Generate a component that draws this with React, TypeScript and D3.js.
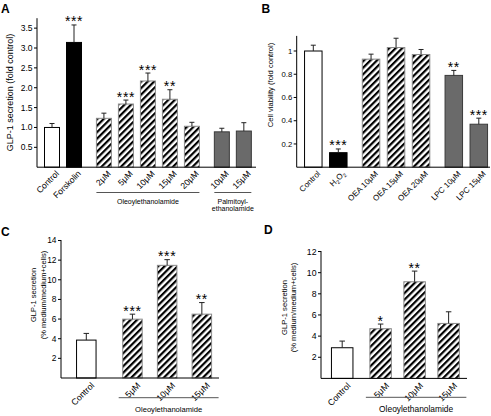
import React from 'react';
import * as d3 from 'd3';

// ---------- Panel A ----------
const aCategories = ['Control', 'Forskolin', '2μM', '5μM', '10μM', '15μM', '20μM', '10μM', '15μM'];
const aGroups = [0, 0, 1, 1, 1, 1, 1, 2, 2];
const aValues = [1.0, 3.14, 1.23, 1.59, 2.17, 1.71, 1.03, 0.89, 0.91];
const aErrors = [0.1, 0.44, 0.13, 0.1, 0.2, 0.24, 0.1, 0.09, 0.21];
const aStars = ['', '***', '', '***', '***', '**', '', '', ''];
const aFills = ['white', 'black', 'hatch', 'hatch', 'hatch', 'hatch', 'hatch', 'gray', 'gray'];
const aTicks = [0.5, 1, 1.5, 2, 2.5, 3, 3.5];
const aTickLabels = ['0.5', '1.0', '1.5', '2.0', '2.5', '3.0', '3.5'];
const aGroupLabels = ['', 'Oleoylethanolamide', 'Palmitoyl-|ethanolamide'];

// ---------- Panel B ----------
const bCategories = ['Control', 'H₂O₂', 'OEA 10μM', 'OEA 15μM', 'OEA 20μM', 'LPC 10μM', 'LPC 15μM'];
const bGroups = [0, 0, 1, 1, 1, 2, 2];
const bValues = [1.0, 0.125, 0.93, 1.03, 0.97, 0.79, 0.37];
const bErrors = [0.05, 0.032, 0.043, 0.08, 0.043, 0.043, 0.052];
const bStars = ['', '***', '', '', '', '**', '***'];
const bFills = ['white', 'black', 'hatch', 'hatch', 'hatch', 'gray', 'gray'];
const bTicks = [0.2, 0.4, 0.6, 0.8, 1];
const bTickLabels = ['0.2', '0.4', '0.6', '0.8', '1'];

// ---------- Panel C ----------
const cCategories = ['Control', '5μM', '10μM', '15μM'];
const cGroups = [0, 1, 1, 1];
const cValues = [3.86, 5.99, 11.47, 6.5];
const cErrors = [0.68, 0.51, 0.58, 1.18];
const cStars = ['', '***', '***', '**'];
const cFills = ['white', 'hatch', 'hatch', 'hatch'];
const cTicks = [2, 4, 6, 8, 10, 12, 14];
const cTickLabels = ['2', '4', '6', '8', '10', '12', '14'];
const cGroupLabels = ['', 'Oleoylethanolamide'];

// ---------- Panel D ----------
const dCategories = ['Control', '5μM', '10μM', '15μM'];
const dGroups = [0, 1, 1, 1];
const dValues = [2.9, 4.7, 9.14, 5.2];
const dErrors = [0.63, 0.44, 1.01, 1.1];
const dStars = ['', '*', '**', ''];
const dFills = ['white', 'hatch', 'hatch', 'hatch'];
const dTicks = [2, 4, 6, 8, 10, 12];
const dTickLabels = ['2', '4', '6', '8', '10', '12'];
const dGroupLabels = ['', 'Oleoylethanolamide'];

const FONT = '"Liberation Sans", Arial, Helvetica, sans-serif';

type PanelCfg = {
  letter: string; letterX: number; letterY: number;
  cats: string[]; groups: number[]; values: number[]; errors: number[]; stars: string[]; fills: string[];
  ticks: number[]; tickLabels: string[]; groupLabels: string[];
  yMax: number; x0: number; xEnd: number; yBase: number; yTop: number;
  c0: number; step: number; gapFrac: number; barW: number; capW: number;
  tickFont: number; labelFont: number; labelDx: number; labelDy: number;
  titleLines: string[]; titleFont: number; titleX: number; titleY: number; titleGap: number;
  groupLineY: number; groupTextY: number; groupFont: number; groupPadL: number; groupPadR: number;
  starFont: number;
};

const panels: PanelCfg[] = [
  {
    letter: 'A', letterX: 1, letterY: 12.7,
    cats: aCategories, groups: aGroups, values: aValues, errors: aErrors, stars: aStars, fills: aFills,
    ticks: aTicks, tickLabels: aTickLabels, groupLabels: aGroupLabels,
    yMax: 3.75, x0: 37, xEnd: 256, yBase: 167.2, yTop: 18.2,
    c0: 52, step: 22, gapFrac: 0.36, barW: 15, capW: 5,
    tickFont: 8.5, labelFont: 8.6, labelDx: 7.5, labelDy: 7,
    titleLines: ['GLP-1 secretion (fold control)'], titleFont: 9, titleX: 13, titleY: 92.5, titleGap: 0,
    groupLineY: 192.5, groupTextY: 203.5, groupFont: 7, groupPadL: 0, groupPadR: 0,
    starFont: 14,
  },
  {
    letter: 'B', letterX: 261.5, letterY: 13.3,
    cats: bCategories, groups: bGroups, values: bValues, errors: bErrors, stars: bStars, fills: bFills,
    ticks: bTicks, tickLabels: bTickLabels, groupLabels: [],
    yMax: 1.13, x0: 296.7, xEnd: 490, yBase: 167.2, yTop: 35.9,
    c0: 313.3, step: 25, gapFrac: 0.31, barW: 17.5, capW: 5,
    tickFont: 7.7, labelFont: 8, labelDx: 7.5, labelDy: 7,
    titleLines: ['Cell viability (fold control)'], titleFont: 7.6, titleX: 273, titleY: 85, titleGap: 0,
    groupLineY: 0, groupTextY: 0, groupFont: 7, groupPadL: 0, groupPadR: 0,
    starFont: 14,
  },
  {
    letter: 'C', letterX: 1, letterY: 235.7,
    cats: cCategories, groups: cGroups, values: cValues, errors: cErrors, stars: cStars, fills: cFills,
    ticks: cTicks, tickLabels: cTickLabels, groupLabels: cGroupLabels,
    yMax: 14.05, x0: 61, xEnd: 219, yBase: 378, yTop: 240,
    c0: 86.3, step: 34.7, gapFrac: 0.33, barW: 19.5, capW: 5.5,
    tickFont: 8.4, labelFont: 8.8, labelDx: 8.5, labelDy: 8,
    titleLines: ['GLP-1 secretion', '(% medium/medium+cells)'], titleFont: 7.5, titleX: 35.5, titleY: 295, titleGap: 10.5,
    groupLineY: 397.7, groupTextY: 412, groupFont: 7.6, groupPadL: 4, groupPadR: 7,
    starFont: 14,
  },
  {
    letter: 'D', letterX: 264, letterY: 234.3,
    cats: dCategories, groups: dGroups, values: dValues, errors: dErrors, stars: dStars, fills: dFills,
    ticks: dTicks, tickLabels: dTickLabels, groupLabels: dGroupLabels,
    yMax: 12.05, x0: 321, xEnd: 467, yBase: 378.4, yTop: 251,
    c0: 342.2, step: 34, gapFrac: 0.13, barW: 21.5, capW: 5.5,
    tickFont: 8.7, labelFont: 8.8, labelDx: 9, labelDy: 8,
    titleLines: ['GLP-1 secretion', '(% medium/medium+cells)'], titleFont: 7.6, titleX: 286.5, titleY: 307.5, titleGap: 9.5,
    groupLineY: 397.3, groupTextY: 412, groupFont: 8.4, groupPadL: 4, groupPadR: 7,
    starFont: 14,
  },
];

function renderLabel(s: string, size: number) {
  const parts = s.split(/(₂)/).filter((p) => p !== '');
  return parts.map((p, i) =>
    p === '₂' ? (
      <tspan key={i} fontSize={size * 0.7} dy={2}>2</tspan>
    ) : (
      <tspan key={i} dy={i > 0 && parts[i - 1] === '₂' ? -2 : 0}>{p}</tspan>
    )
  );
}

function Panel({ p, idx }: { p: PanelCfg; idx: number }) {
  const y = d3.scaleLinear().domain([0, p.yMax]).range([p.yBase, p.yTop]);
  const slot = d3.scaleLinear().domain([0, 1]).range([p.c0, p.c0 + p.step]);
  const cx = p.cats.map((_, i) => slot(i + p.gapFrac * p.groups[i]));
  const fillOf = (f: string) =>
    f === 'hatch' ? `url(#hatch${idx})` : f === 'gray' ? '#6a6a6a' : f === 'black' ? '#000' : '#fff';
  const strokeOf = (f: string) => (f === 'hatch' ? '#8a8a8a' : f === 'gray' ? '#3a3a3a' : '#000');

  const groupIds = Array.from(new Set(p.groups)).filter((g) => p.groupLabels[g]);

  return (
    <g>
      <defs>
        <pattern id={`hatch${idx}`} patternUnits="userSpaceOnUse" width={4.6} height={4.6} patternTransform="rotate(45)">
          <rect width={4.6} height={4.6} fill="#fff" />
          <rect width={2.2} height={4.6} fill="#000" />
        </pattern>
      </defs>
      <text x={p.letterX} y={p.letterY} fontFamily={FONT} fontWeight="bold" fontSize={12} fill="#000">{p.letter}</text>

      {/* bars */}
      {p.values.map((v, i) => (
        <rect key={`b${i}`} x={cx[i] - p.barW / 2} y={y(v)} width={p.barW} height={p.yBase - y(v)}
          fill={fillOf(p.fills[i])} stroke={strokeOf(p.fills[i])} strokeWidth={1} />
      ))}
      {/* error bars */}
      {p.values.map((v, i) => (
        <g key={`e${i}`} stroke="#222" strokeWidth={1}>
          <line x1={cx[i]} x2={cx[i]} y1={y(v)} y2={y(v + p.errors[i])} />
          <line x1={cx[i] - p.capW / 2} x2={cx[i] + p.capW / 2} y1={y(v + p.errors[i])} y2={y(v + p.errors[i])} />
        </g>
      ))}
      {/* stars */}
      {p.values.map((v, i) => p.stars[i] ? (
        <text key={`s${i}`} x={cx[i]} y={y(v + p.errors[i]) + 1.5} textAnchor="middle" fontFamily={FONT}
          fontSize={p.starFont} letterSpacing={0.6} fill="#000">{p.stars[i]}</text>
      ) : null)}

      {/* axes */}
      <line x1={p.x0} x2={p.x0} y1={p.yBase} y2={p.yTop} stroke="#000" strokeWidth={1} />
      <line x1={p.x0} x2={p.xEnd} y1={p.yBase} y2={p.yBase} stroke="#000" strokeWidth={1} />
      {p.ticks.map((t, k) => (
        <g key={`t${t}`}>
          <line x1={p.x0 - 3} x2={p.x0} y1={y(t)} y2={y(t)} stroke="#000" strokeWidth={1} />
          <text x={p.x0 - 4.5} y={y(t)} dy="0.35em" textAnchor="end" fontFamily={FONT} fontSize={p.tickFont} fill="#000">{p.tickLabels[k]}</text>
        </g>
      ))}

      {/* category labels */}
      {p.cats.map((c, i) => (
        <text key={`l${i}`} transform={`translate(${cx[i] + p.labelDx},${p.yBase + p.labelDy}) rotate(-45)`}
          textAnchor="end" fontFamily={FONT} fontSize={p.labelFont} fill="#000">{renderLabel(c, p.labelFont)}</text>
      ))}

      {/* y title */}
      {p.titleLines.map((t, k) => (
        <text key={`yt${k}`} transform={`translate(${p.titleX + k * p.titleGap},${p.titleY}) rotate(-90)`}
          textAnchor="middle" fontFamily={FONT} fontSize={p.titleFont} fill="#000">{t}</text>
      ))}

      {/* group underlines */}
      {groupIds.map((g) => {
        const idxs = p.groups.map((gg, i) => (gg === g ? i : -1)).filter((i) => i >= 0);
        const left = cx[idxs[0]] - p.barW / 2 - p.groupPadL;
        const right = cx[idxs[idxs.length - 1]] + p.barW / 2 + p.groupPadR;
        const lines = p.groupLabels[g].split('|');
        return (
          <g key={`g${g}`}>
            <line x1={left} x2={right} y1={p.groupLineY} y2={p.groupLineY} stroke="#555" strokeWidth={1} />
            {lines.map((ln, k) => (
              <text key={k} x={(left + right) / 2} y={p.groupTextY + k * 7.2} textAnchor="middle"
                fontFamily={FONT} fontSize={p.groupFont} fill="#000">{ln}</text>
            ))}
          </g>
        );
      })}
    </g>
  );
}

export default function App() {
  return (
    <svg width={491} height={416} viewBox="0 0 491 416"
      style={{ position: 'absolute', left: 0, top: 0, background: '#fff' }}>
      <rect width={491} height={416} fill="#fff" />
      {panels.map((p, i) => <Panel key={i} p={p} idx={i} />)}
    </svg>
  );
}
